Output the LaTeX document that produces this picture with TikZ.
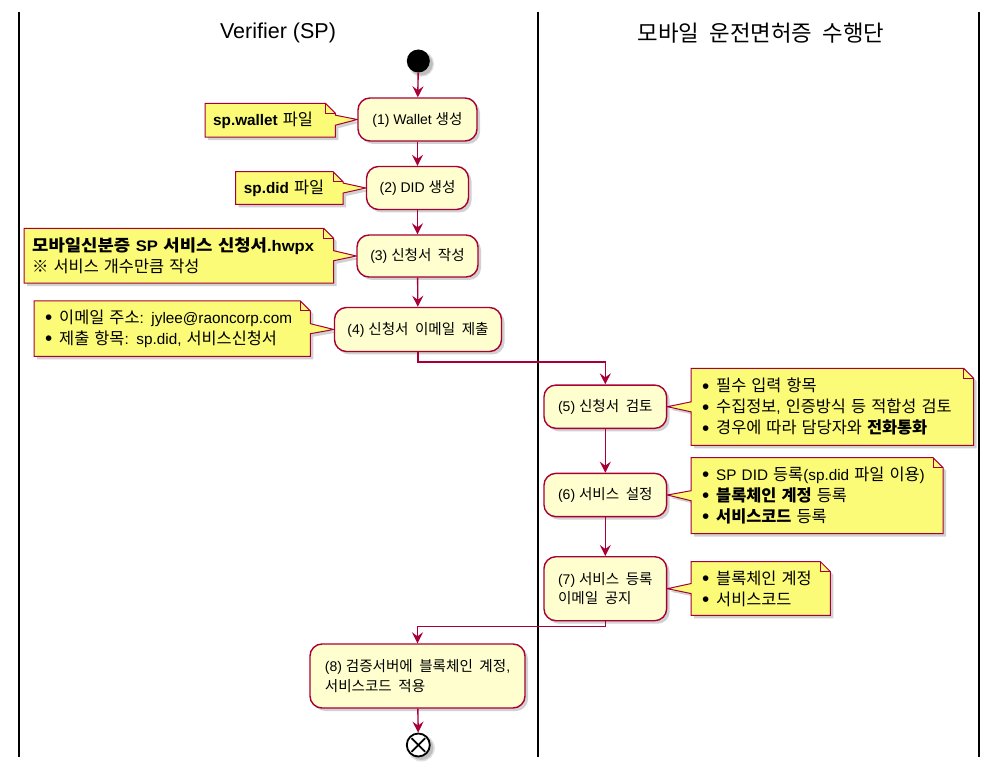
\documentclass[tikz,border=0pt]{standalone}
\usepackage{fontspec}
\setmainfont{Liberation Sans}
\newfontfamily\krA[Scale=1.04,WordSpace=2.0]{Noto Sans CJK KR}
\newfontfamily\krB[Scale=1.07,WordSpace=2.2]{Noto Sans CJK KR}
\let\krcur\krA
\newcommand\kr[1]{{\krcur #1}}
\newcommand\krb[1]{{\krcur\bfseries #1}}
\newcommand\bul{\makebox[17pt][l]{\hspace{3pt}\raisebox{-0.08em}{\scalebox{1.35}{\textbullet}}}}
\usetikzlibrary{arrows.meta,shadows,calc}
\definecolor{actfill}{HTML}{FEFECE}
\definecolor{notefill}{HTML}{FBFB77}
\definecolor{pumlred}{HTML}{A80036}
\pgfdeclarelayer{bg}
\pgfsetlayers{bg,main}
\tikzset{
  myshadow/.style={drop shadow={shadow xshift=3pt, shadow yshift=-3pt, fill=black, opacity=0.18}},
  act/.style={rectangle, rounded corners=12pt, draw=pumlred, fill=actfill, line width=1.4pt,
    font=\let\krcur\krA\fontsize{14}{19.5}\selectfont, align=left, inner sep=0pt, myshadow},
  flow/.style={draw=pumlred, line width=1.4pt, -{Stealth[length=11pt,width=11pt,inset=4pt]}},
  notetext/.style={rectangle, inner xsep=8pt, inner ysep=0pt, align=left,
    font=\let\krcur\krB\fontsize{15.3}{21}\selectfont, anchor=north west},
  notebody/.style={fill=notefill, draw=pumlred, line width=1pt, line join=miter, myshadow},
  notefold/.style={draw=pumlred, line width=1pt},
  lane/.style={line width=1.8pt, black},
  lanetitle/.style={inner sep=0pt},
}
\newcommand\noteL[2]{%
  \begin{pgfonlayer}{bg}
  \path[notebody] (#1.north west) -- ([xshift=-10pt]#1.north east) -- ([yshift=-10pt]#1.north east)
    -- ([yshift=5pt]#1.east) -- (#2.west) -- ([yshift=-5pt]#1.east) -- (#1.south east) -- (#1.south west) -- cycle;
  \draw[notefold] ([xshift=-10pt]#1.north east) |- ([yshift=-10pt]#1.north east);
  \end{pgfonlayer}}
\newcommand\noteR[2]{%
  \begin{pgfonlayer}{bg}
  \path[notebody] (#1.north west) -- ([xshift=-10pt]#1.north east) -- ([yshift=-10pt]#1.north east)
    -- (#1.south east) -- (#1.south west) -- ([yshift=-5pt]#1.west) -- (#2.east) -- ([yshift=5pt]#1.west) -- cycle;
  \draw[notefold] ([xshift=-10pt]#1.north east) |- ([yshift=-10pt]#1.north east);
  \end{pgfonlayer}}
\begin{document}
\begin{tikzpicture}[x=1pt,y=-1pt]
\useasboundingbox (0,0) rectangle (1001,775);
\begin{pgfonlayer}{bg}
\fill[white] (0,0) rectangle (1001,775);
\end{pgfonlayer}
% lanes
\draw[lane] (19,12) -- (19,757);
\draw[lane] (538,12) -- (538,757);
\draw[lane] (979,12) -- (979,757);
\node[lanetitle, font=\fontsize{21.5}{24}\selectfont] (t1) at (278,33) {Verifier (SP)};
\node[lanetitle, font=\krA\fontsize{21.5}{26}\selectfont] (t2) at (761,33) {모바일 운전면허증 수행단};
% start
\fill[black, opacity=0.12] (421.3,64) circle (12.8pt);
\fill[black, opacity=0.15] (421.3,64) circle (11.5pt);
\node[circle, fill=black, minimum size=23pt, inner sep=0pt] (start) at (418.3,61) {};
% activities
\node[act, minimum width=119pt, minimum height=43pt] (a1) at (417.5,119.5) {(1) Wallet \kr{생성}};
\node[act, minimum width=102pt, minimum height=43pt] (a2) at (417.5,188) {(2) DID \kr{생성}};
\node[act, minimum width=121pt, minimum height=42pt] (a3) at (417.5,256) {(3) \kr{신청서 작성}};
\node[act, minimum width=167pt, minimum height=44pt] (a4) at (418,329.5) {(4) \kr{신청서 이메일 제출}};
\node[act, minimum width=122.7pt, minimum height=43.3pt] (a5) at (605.3,406.7) {(5) \kr{신청서 검토}};
\node[act, minimum width=122.7pt, minimum height=43.3pt] (a6) at (605.3,495) {(6) \kr{서비스 설정}};
\node[act, minimum width=122.7pt, minimum height=64pt] (a7) at (605.3,588.7) {(7) \kr{서비스 등록}\\\kr{이메일 공지}};
\node[act, minimum width=215pt, minimum height=64pt] (a8) at (417.5,676) {(8) \kr{검증서버에 블록체인 계정},\\\kr{서비스코드 적용}};
% end
\fill[black, opacity=0.12] (421.3,748) circle (13.5pt);
\fill[black, opacity=0.15] (421.3,748) circle (12pt);
\node[circle, draw=black, line width=1.8pt, fill=white, minimum size=23pt, inner sep=0pt] (end) at (418.3,745) {};
\draw[line width=1.8pt] ($(end.center)!0.78!(end.north west)$) -- ($(end.center)!0.78!(end.south east)$);
\draw[line width=1.8pt] ($(end.center)!0.78!(end.north east)$) -- ($(end.center)!0.78!(end.south west)$);
% flows
\draw[flow] (start) -- (a1);
\draw[flow] (a1) -- (a2);
\draw[flow] (a2) -- (a3);
\draw[flow] (a3) -- (a4);
\draw[flow] (a4.south) -- ([yshift=-10pt]a4.south) -| (a5.north);
\draw[flow] (a5) -- (a6);
\draw[flow] (a6) -- (a7);
\draw[flow] (a7.south) -- ([yshift=-5pt]a7.south) -| (a8.north);
\draw[flow] (a8) -- (end);
% notes
\node[notetext, minimum height=33.4pt, text width=114pt] (n1) at (205,103.3) {\textbf{sp.wallet} \kr{파일}};
\noteL{n1}{a1}
\node[notetext, minimum height=32.3pt, text width=91pt] (n2) at (235.7,171.7) {\textbf{sp.did} \kr{파일}};
\noteL{n2}{a2}
\node[notetext, minimum height=54.4pt, text width=293.3pt] (n3) at (24,228.3) {\scalebox{1.085}[1]{\textbf{\kr{모바일신분증} SP \kr{서비스 신청서}.hwpx}}\\\kr{※ 서비스 개수만큼 작성}};
\noteL{n3}{a3}
\node[notetext, minimum height=55pt, text width=260pt] (n4) at (34,301) {\bul\kr{이메일 주소}: jylee@raoncorp.com\\\bul\kr{제출 항목}: sp.did, \kr{서비스신청서}};
\noteL{n4}{a4}
\node[notetext, minimum height=76.7pt, text width=266.3pt] (n5) at (691,368.3) {\bul\kr{필수 입력 항목}\\\bul\kr{수집정보}, \kr{인증방식 등 적합성 검토}\\\bul\kr{경우에 따라 담당자와} \krb{전화통화}};
\noteR{n5}{a5}
\node[notetext, minimum height=75.6pt, text width=235.7pt] (n6) at (691,457.7) {\bul SP DID \kr{등록}(sp.did \kr{파일 이용})\\\bul\krb{블록체인 계정} \kr{등록}\\\bul\krb{서비스코드} \kr{등록}};
\noteR{n6}{a6}
\node[notetext, minimum height=53.3pt, text width=123pt] (n7) at (691,561.7) {\bul\kr{블록체인 계정}\\\bul\kr{서비스코드}};
\noteR{n7}{a7}
\end{tikzpicture}
\end{document}
